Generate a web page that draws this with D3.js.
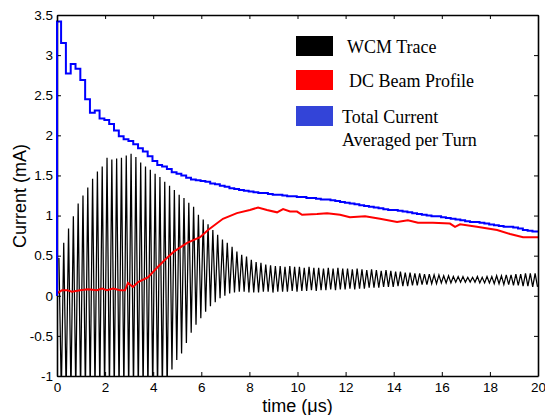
<!DOCTYPE html>
<html>
<head>
<meta charset="utf-8">
<script src="https://cdn.jsdelivr.net/npm/d3@7"></script>
<style>
  body { margin: 0; background: #fff; }
  .tick text { font-family: "Liberation Sans", Arial, sans-serif; font-size: 13.5px; fill: #000; }
  .legendText { font-family: "Liberation Serif", "Times New Roman", serif; font-size: 18px; fill: #000; }
  .axisTitle { font-family: "Liberation Sans", Arial, sans-serif; font-size: 18px; fill: #000; }
</style>
</head>
<body>
<div id="chart"></div>
<script>
// turn period of the ring (us) and where the WCM peak / trough fall inside a turn
var turnPeriod = 0.2;
var peakPhase = 0.08;
var troughPhase = 0.18;
var stepStart = -0.03;

// WCM trace: peak and trough of each turn (mA), troughs below -1 are off scale
var wcmPeak = [0.47,0.66,0.84,0.99,1.15,1.25,1.35,1.46,1.55,1.61,
  1.72,1.70,1.71,1.72,1.75,1.77,1.73,1.66,1.61,1.57,
  1.52,1.48,1.42,1.37,1.32,1.26,1.22,1.16,1.11,1.01,
  0.95,0.89,0.82,0.76,0.70,0.66,0.61,0.55,0.51,0.49,
  0.45,0.42,0.41,0.39,0.38,0.37,0.37,0.36,0.37,0.36,
  0.36,0.35,0.36,0.35,0.35,0.34,0.35,0.34,0.35,0.34,
  0.34,0.33,0.34,0.33,0.32,0.33,0.32,0.31,0.32,0.31,
  0.30,0.30,0.29,0.29,0.28,0.28,0.27,0.27,0.26,0.26,
  0.25,0.25,0.24,0.24,0.24,0.23,0.23,0.24,0.23,0.24,
  0.24,0.25,0.25,0.26,0.26,0.27,0.27,0.28,0.28,0.28];

var wcmTrough = [-1.2,-1.2,-1.2,-1.2,-1.2,-1.2,-1.2,-1.2,-1.2,-1.2,
  -1.2,-1.2,-1.2,-1.2,-1.2,-1.2,-1.2,-1.2,-1.2,-1.2,
  -1.2,-1.2,-1.2,-0.92,-0.80,-0.72,-0.59,-0.46,-0.36,-0.28,
  -0.20,-0.13,-0.08,-0.03,0.00,0.03,0.04,0.05,0.05,0.04,
  0.04,0.04,0.05,0.05,0.04,0.05,0.05,0.05,0.06,0.05,
  0.06,0.06,0.07,0.06,0.07,0.07,0.08,0.07,0.08,0.08,
  0.09,0.08,0.09,0.09,0.10,0.10,0.10,0.11,0.11,0.11,
  0.12,0.12,0.12,0.13,0.13,0.14,0.14,0.15,0.15,0.16,
  0.16,0.16,0.17,0.17,0.17,0.17,0.17,0.16,0.16,0.16,
  0.15,0.15,0.14,0.14,0.13,0.13,0.12,0.12,0.11,0.11];

// total current averaged per turn (mA)
var totalCurrent = [3.42,3.15,2.77,2.89,2.83,2.69,2.45,2.28,2.31,2.21,
  2.19,2.14,2.06,1.99,1.95,1.93,1.89,1.84,1.80,1.74,
  1.68,1.63,1.61,1.58,1.54,1.52,1.50,1.47,1.45,1.44,
  1.43,1.42,1.40,1.39,1.37,1.36,1.34,1.33,1.32,1.31,
  1.30,1.29,1.28,1.28,1.27,1.26,1.26,1.25,1.24,1.24,
  1.23,1.23,1.22,1.22,1.21,1.20,1.20,1.19,1.18,1.17,
  1.16,1.15,1.14,1.13,1.12,1.11,1.10,1.09,1.08,1.07,
  1.07,1.06,1.05,1.04,1.03,1.02,1.01,1.00,0.99,0.99,
  0.98,0.97,0.96,0.95,0.94,0.93,0.92,0.92,0.91,0.90,
  0.89,0.88,0.87,0.86,0.86,0.85,0.84,0.82,0.81,0.80];

// DC beam profile
var dcTime = [0,0.21,0.42,0.62,0.96,1.29,1.66,1.87,2.08,2.33,2.62,2.83,2.95,3.16,3.37,3.78,
  4.16,4.49,4.86,5.41,5.95,6.28,6.90,7.48,8.02,8.36,8.73,9.15,9.40,9.69,9.98,10.19,
  10.81,11.23,11.77,12.18,12.81,13.43,14.14,14.59,15.01,15.63,16.34,16.55,16.76,17.46,
  18.30,18.84,19.38,20];
var dcCurrent = [0.03,0.07,0.07,0.05,0.07,0.08,0.07,0.09,0.07,0.09,0.07,0.07,0.16,0.11,0.17,0.23,
  0.35,0.45,0.55,0.66,0.73,0.82,0.96,1.03,1.07,1.10,1.07,1.04,1.08,1.05,1.05,1.01,
  1.02,1.03,1.01,0.98,0.99,0.96,0.92,0.94,0.91,0.91,0.90,0.86,0.89,0.86,
  0.82,0.77,0.73,0.73];

var xTicks = [0,2,4,6,8,10,12,14,16,18,20];
var yTicks = [-1,-0.5,0,0.5,1,1.5,2,2.5,3,3.5];

var legendLabels = [["WCM Trace"], ["DC Beam Profile"], ["Total Current", "Averaged per Turn"]];
var legendColors = ["#000000", "#ff0000", "#3344d8"];

var svgWidth = 545, svgHeight = 415;
var margin = {top: 15, right: 7, bottom: 39, left: 57};
var width = svgWidth - margin.left - margin.right;
var height = svgHeight - margin.top - margin.bottom;

var svg = d3.select("#chart").append("svg")
  .attr("width", svgWidth)
  .attr("height", svgHeight);

var chartGroup = svg.append("g")
  .attr("transform", `translate(${margin.left}, ${margin.top})`);

var xScale = d3.scaleLinear().domain([0, 20]).range([0, width]);
var yScale = d3.scaleLinear().domain([-1, 3.5]).range([height, 0]);

chartGroup.append("clipPath").attr("id", "plotClip")
  .append("rect").attr("x", 0).attr("y", 0).attr("width", width).attr("height", height);

// WCM trace as a peak/trough zigzag
var wcmPoints = [];
wcmPeak.forEach(function(p, i) {
  wcmPoints.push([peakPhase + i * turnPeriod, p]);
  wcmPoints.push([troughPhase + i * turnPeriod, wcmTrough[i]]);
});

var line = d3.line().x(d => xScale(d[0])).y(d => yScale(d[1]));

chartGroup.append("path")
  .datum(wcmPoints)
  .attr("clip-path", "url(#plotClip)")
  .attr("fill", "none")
  .attr("stroke", "#000")
  .attr("stroke-width", 1.25)
  .attr("d", line);

// DC profile
chartGroup.append("path")
  .datum(dcTime.map((t, i) => [t, dcCurrent[i]]))
  .attr("fill", "none")
  .attr("stroke", "#ff0000")
  .attr("stroke-width", 2)
  .attr("d", line);

// total current, stepped per turn
var bluePoints = [[0, 0]];
totalCurrent.forEach(function(v, i) {
  bluePoints.push([Math.max(0, stepStart + i * turnPeriod), v]);
});
bluePoints.push([20, totalCurrent[totalCurrent.length - 1]]);

chartGroup.append("path")
  .datum(bluePoints)
  .attr("fill", "none")
  .attr("stroke", "#0000ff")
  .attr("stroke-width", 2)
  .attr("d", d3.line().curve(d3.curveStepAfter).x(d => xScale(d[0])).y(d => yScale(d[1])));

// axes, ticks inward on all four sides
var fmt = d => String(d);
function styleAxis(g) {
  g.select(".domain").attr("stroke", "#000").attr("stroke-width", 1.6);
  g.selectAll(".tick line").attr("stroke", "#000");
}

chartGroup.append("g")
  .attr("transform", `translate(0, ${height})`)
  .call(d3.axisBottom(xScale).tickValues(xTicks).tickFormat(fmt).tickSize(-4).tickSizeOuter(0).tickPadding(6))
  .call(styleAxis);
chartGroup.append("g")
  .call(d3.axisTop(xScale).tickValues(xTicks).tickFormat("").tickSize(-4).tickSizeOuter(0))
  .call(styleAxis);
chartGroup.append("g")
  .call(d3.axisLeft(yScale).tickValues(yTicks).tickFormat(fmt).tickSize(-4).tickSizeOuter(0).tickPadding(4))
  .call(styleAxis);
chartGroup.append("g")
  .attr("transform", `translate(${width}, 0)`)
  .call(d3.axisRight(yScale).tickValues(yTicks).tickFormat("").tickSize(-4).tickSizeOuter(0))
  .call(styleAxis);

chartGroup.selectAll(".tick text").attr("font-family", null).attr("font-size", null);

// redraw blue over the left axis line
chartGroup.append("path")
  .datum(bluePoints.slice(0, 2))
  .attr("fill", "none")
  .attr("stroke", "#0000ff")
  .attr("stroke-width", 2)
  .attr("d", line);

// axis titles
svg.append("text")
  .attr("class", "axisTitle")
  .attr("transform", "translate(26, 196) rotate(-90)")
  .attr("text-anchor", "middle")
  .text("Current (mA)");

svg.append("text")
  .attr("class", "axisTitle")
  .attr("x", margin.left + xScale(10))
  .attr("y", 412)
  .attr("text-anchor", "middle")
  .text("time (\u03bcs)");

// legend
var legend = svg.append("g").attr("transform", "translate(296, 36)");
legendLabels.forEach(function(lines, i) {
  var gy = [0, 34, 70][i];
  legend.append("rect")
    .attr("x", 0).attr("y", gy)
    .attr("width", 37).attr("height", 20)
    .attr("fill", legendColors[i]);
  lines.forEach(function(s, j) {
    legend.append("text")
      .attr("class", "legendText")
      .attr("x", i == 2 ? 46 : (i == 1 ? 53 : 51))
      .attr("y", gy + 17 + j * 23)
      .text(s);
  });
});
</script>
</body>
</html>
